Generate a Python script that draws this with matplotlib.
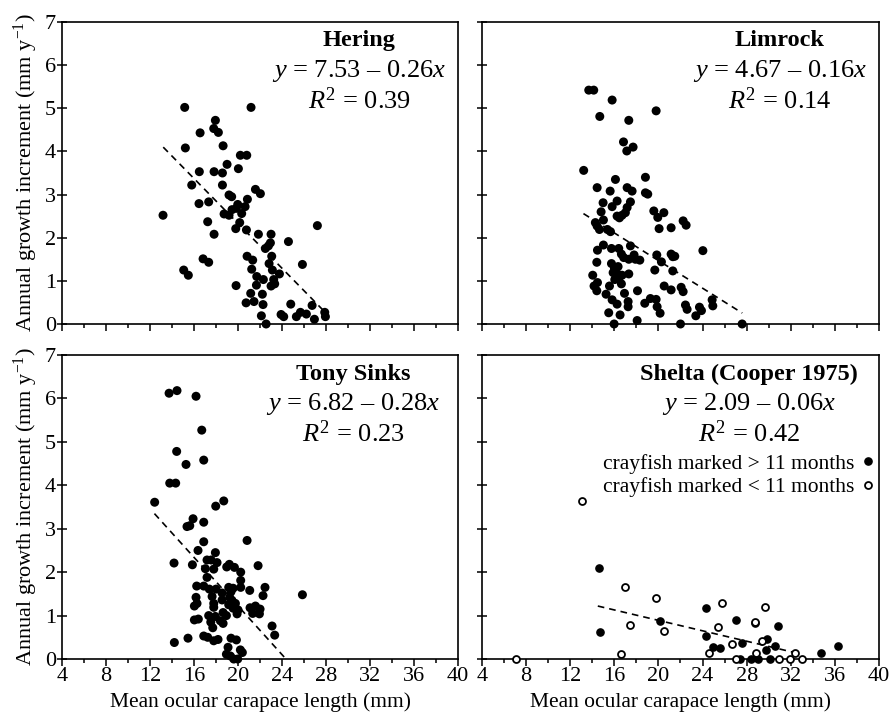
import matplotlib
matplotlib.use('Agg')
import matplotlib.pyplot as plt
import matplotlib.ticker as ticker
import numpy as np

plt.rcParams['font.family'] = ['Liberation Serif', 'DejaVu Serif']
plt.rcParams['mathtext.fontset'] = 'custom'
plt.rcParams['mathtext.rm'] = 'Liberation Serif'
plt.rcParams['mathtext.it'] = 'Liberation Serif:italic'
plt.rcParams['mathtext.bf'] = 'Liberation Serif:bold'

# Hering
hering_x = [13.18, 15.15, 15.21, 15.06, 15.48, 16.55, 16.48, 15.79, 16.45, 17.24,
            17.33, 16.82, 17.33, 17.82, 17.82, 17.94, 17.79, 18.21, 18.64, 18.58,
            18.58, 19.0, 18.73, 19.18, 19.18, 19.42, 19.45, 19.85, 19.97, 19.79,
            20.15, 20.33, 20.03, 20.21, 20.79, 21.18, 20.64, 20.85, 20.76, 19.82,
            20.82, 21.33, 21.24, 21.58, 22.03, 21.85, 20.73, 21.15, 21.45, 21.70,
            21.67, 22.30, 22.21, 22.27, 22.12, 22.55, 22.48, 22.76, 23.0, 22.94,
            23.06, 22.82, 23.12, 23.24, 23.33, 23.0, 23.76, 24.58, 24.79, 23.91,
            24.15, 25.85, 25.30, 25.67, 26.21, 26.73, 26.94, 27.21, 27.88, 27.94]
hering_y = [2.52, 5.02, 4.08, 1.25, 1.13, 4.43, 3.53, 3.22, 2.79, 2.37,
            2.83, 1.51, 1.43, 2.08, 3.53, 4.72, 4.53, 4.44, 4.13, 3.50,
            3.22, 3.70, 2.55, 2.52, 2.99, 2.95, 2.65, 2.68, 2.77, 2.21,
            2.35, 2.56, 3.60, 3.91, 3.91, 5.02, 2.72, 2.89, 2.18, 0.89,
            1.57, 1.48, 1.27, 3.12, 3.02, 2.08, 0.49, 0.71, 0.52, 1.10,
            0.90, 1.03, 0.69, 0.45, 0.19, 0.0, 1.75, 1.81, 2.08, 1.88,
            1.57, 1.40, 1.25, 1.03, 0.93, 0.88, 1.16, 1.91, 0.46, 0.22,
            0.17, 1.38, 0.17, 0.27, 0.23, 0.43, 0.11, 2.28, 0.27, 0.17]

# Limrock
limrock_x = [13.68, 14.13, 15.80, 14.68, 17.31, 19.79, 16.83, 17.13, 17.70, 13.22,
             14.44, 15.62, 16.10, 17.16, 17.61, 18.82, 18.82, 19.03, 14.98, 16.25,
             15.80, 17.46, 17.16, 17.0, 16.70, 16.25, 16.46, 14.80, 15.01, 14.28,
             14.44, 14.65, 15.37, 15.65, 19.58, 20.49, 19.94, 20.06, 21.15, 22.24,
             22.51, 14.47, 15.01, 15.74, 16.40, 16.64, 17.46, 16.85, 17.31, 17.79,
             17.91, 18.31, 14.41, 15.74, 16.01, 16.34, 15.89, 16.28, 16.70, 17.31,
             14.04, 16.04, 16.40, 16.64, 14.16, 14.47, 14.41, 15.56, 15.25, 16.92,
             18.10, 15.80, 16.25, 17.25, 17.25, 15.49, 16.52, 15.98, 18.07, 18.76,
             19.27, 19.79, 19.88, 20.15, 19.67, 19.85, 20.27, 20.52, 21.15, 21.30,
             21.15, 21.30, 21.48, 22.06, 22.24, 22.45, 22.60, 23.39, 23.72, 23.90,
             24.03, 24.87, 24.93, 22.0, 27.59]
limrock_y = [5.42, 5.42, 5.19, 4.81, 4.72, 4.94, 4.22, 4.01, 4.10, 3.56,
             3.16, 3.08, 3.35, 3.16, 3.08, 3.40, 3.04, 3.01, 2.81, 2.85,
             2.72, 2.83, 2.70, 2.58, 2.52, 2.50, 2.46, 2.60, 2.41, 2.35,
             2.27, 2.19, 2.19, 2.14, 2.62, 2.58, 2.47, 2.21, 2.23, 2.39,
             2.29, 1.71, 1.83, 1.75, 1.75, 1.62, 1.81, 1.54, 1.50, 1.60,
             1.50, 1.48, 1.43, 1.40, 1.29, 1.33, 1.19, 1.16, 1.13, 1.16,
             1.13, 1.03, 1.06, 0.93, 0.88, 0.96, 0.77, 0.88, 0.69, 0.71,
             0.77, 0.56, 0.46, 0.52, 0.40, 0.26, 0.21, 0.0, 0.08, 0.48,
             0.59, 0.57, 0.40, 0.25, 1.25, 1.60, 1.44, 0.88, 0.79, 1.23,
             1.62, 1.56, 1.57, 0.85, 0.75, 0.44, 0.34, 0.19, 0.39, 0.31,
             1.70, 0.56, 0.42, 0.0, 0.0]

# Tony Sinks
tony_x = [12.42, 13.73, 14.45, 16.18, 16.70, 14.42, 15.27, 16.88, 13.79, 14.33,
          17.97, 18.70, 15.91, 15.36, 15.61, 16.88, 16.88, 16.36, 20.82, 14.18,
          15.85, 17.18, 17.55, 17.94, 18.09, 17.03, 17.79, 17.18, 18.97, 19.21,
          19.67, 20.24, 21.82, 20.24, 20.24, 21.06, 22.45, 22.27, 25.85, 16.24,
          16.88, 17.39, 18.0, 18.55, 18.55, 17.64, 17.79, 17.79, 16.18, 16.03,
          16.27, 19.15, 19.36, 19.55, 19.24, 19.45, 19.15, 19.76, 19.55, 20.0,
          19.91, 21.09, 21.33, 21.58, 22.0, 21.94, 18.64, 18.94, 17.33, 17.94,
          17.52, 17.70, 18.39, 18.64, 16.03, 16.39, 23.09, 23.33, 14.21, 15.45,
          16.88, 17.24, 17.79, 18.18, 19.36, 19.85, 19.09, 18.94, 19.30, 19.61,
          19.97, 20.21, 20.39]
tony_y = [3.61, 6.12, 6.18, 6.05, 5.27, 4.78, 4.48, 4.58, 4.05, 4.05,
          3.52, 3.64, 3.23, 3.05, 3.07, 3.15, 2.70, 2.50, 2.73, 2.21,
          2.17, 2.28, 2.28, 2.45, 2.22, 2.08, 2.07, 1.88, 2.12, 2.18,
          2.11, 2.0, 2.15, 1.81, 1.65, 1.58, 1.65, 1.46, 1.48, 1.68,
          1.68, 1.61, 1.61, 1.52, 1.36, 1.44, 1.28, 1.19, 1.42, 1.22,
          1.28, 1.65, 1.55, 1.63, 1.42, 1.35, 1.25, 1.28, 1.17, 1.13,
          1.04, 1.18, 1.05, 1.22, 1.15, 1.04, 1.07, 1.0, 1.0, 0.98,
          0.85, 0.72, 0.88, 0.82, 0.90, 0.92, 0.76, 0.55, 0.38, 0.48,
          0.53, 0.50, 0.42, 0.45, 0.48, 0.44, 0.27, 0.11, 0.07, 0.0,
          0.0, 0.21, 0.15]

# Shelta (Cooper 1975)
shelta_old_x = [14.58, 14.70, 20.11, 24.28, 24.28, 24.95, 25.61, 27.07, 27.55, 27.43,
                28.43, 29.03, 28.73, 29.88, 29.79, 30.54, 30.81, 30.09, 34.71, 36.32]
shelta_old_y = [2.09, 0.62, 0.88, 1.17, 0.53, 0.28, 0.25, 0.91, 0.38, 0.0,
                0.0, 0.0, 0.84, 0.45, 0.21, 0.30, 0.77, 0.0, 0.13, 0.30]
shelta_new_x = [7.05, 13.10, 16.58, 17.0, 17.42, 19.81, 20.51, 24.62, 25.43, 25.80,
                26.70, 27.0, 28.73, 28.82, 29.36, 29.63, 30.90, 31.90, 32.36, 33.05]
shelta_new_y = [0.0, 3.64, 0.12, 1.65, 0.78, 1.40, 0.65, 0.13, 0.74, 1.28,
                0.34, 0.0, 0.85, 0.15, 0.42, 1.20, 0.0, 0.0, 0.13, 0.0]

# regression: intercept, slope, r2, fitted x range
sites = ['Hering', 'Limrock', 'Tony Sinks', 'Shelta (Cooper 1975)']
intercepts = [7.53, 4.67, 6.82, 2.09]
slopes = [-0.26, -0.16, -0.28, -0.06]
r2s = [0.39, 0.14, 0.23, 0.42]
fit_start = [13.2, 13.2, 12.4, 14.5]
fit_end = [27.8, 27.6, 25.0, 32.3]

fig = plt.figure(figsize=(8.9, 7.13), dpi=100)
pos = [[0.0697, 0.5456, 0.445, 0.4236],
       [0.5416, 0.5456, 0.446, 0.4236],
       [0.0697, 0.0757, 0.445, 0.4264],
       [0.5416, 0.0757, 0.446, 0.4264]]
axes = [fig.add_axes(p) for p in pos]

data = [(hering_x, hering_y), (limrock_x, limrock_y), (tony_x, tony_y), None]
text_x = [0.75, 0.75, 0.735, 0.673]

for i, ax in enumerate(axes):
    ax.set_xlim(4, 40)
    ax.set_ylim(0, 7)
    ax.xaxis.set_major_locator(ticker.MultipleLocator(4))
    ax.xaxis.set_minor_locator(ticker.MultipleLocator(2))
    ax.yaxis.set_major_locator(ticker.MultipleLocator(1))
    ax.tick_params(axis='x', which='major', direction='out', length=5, width=1.1, labelsize=16, pad=1)
    ax.tick_params(axis='x', which='minor', direction='out', length=3, width=1.1)
    ax.tick_params(axis='y', which='major', direction='inout', length=7, width=1.1, labelsize=16, pad=1)
    for s in ax.spines.values():
        s.set_linewidth(1.2)
    if i < 2:
        ax.tick_params(axis='x', labelbottom=False)
    else:
        ax.set_xlabel('Mean ocular carapace length (mm)', fontsize=15.5, labelpad=4)
    if i % 2 == 1:
        ax.tick_params(axis='y', labelleft=False)
    else:
        ax.set_ylabel('Annual growth increment (mm y$^{-1}$)', fontsize=16, labelpad=3)

    xs = np.linspace(fit_start[i], fit_end[i], 50)
    ax.plot(xs, intercepts[i] + slopes[i] * xs, color='black', lw=1.2,
            linestyle=(0, (4, 3)), zorder=1)

    if data[i] is not None:
        ax.scatter(data[i][0], data[i][1], s=42, color='black', edgecolors='none',
                   clip_on=False, zorder=3)

    tx = text_x[i]
    ax.text(tx, 0.937, sites[i], transform=ax.transAxes, ha='center', va='center',
            fontsize=17.5, fontweight='bold')
    ax.text(tx, 0.838, r'$y$ = %.2f – %.2f$x$' % (intercepts[i], -slopes[i]),
            transform=ax.transAxes, ha='center', va='center', fontsize=19)
    ax.text(tx, 0.74, r'$R^2$ = %.2f' % r2s[i], transform=ax.transAxes,
            ha='center', va='center', fontsize=19)

ax = axes[3]
ax.plot(shelta_old_x, shelta_old_y, 'o', color='black', ms=5.2, clip_on=False,
        zorder=3, label='crayfish marked > 11 months')
ax.plot(shelta_new_x, shelta_new_y, 'o', mfc='white', mec='black', mew=1.3, ms=5.0,
        clip_on=False, zorder=4, label='crayfish marked < 11 months')
ax.legend(loc='upper right', bbox_to_anchor=(0.985, 0.675), frameon=False, fontsize=15.5,
          markerfirst=False, handlelength=0.5, handletextpad=0.35, labelspacing=0.15,
          borderpad=0, borderaxespad=0)

plt.savefig('out.png', dpi=100)
